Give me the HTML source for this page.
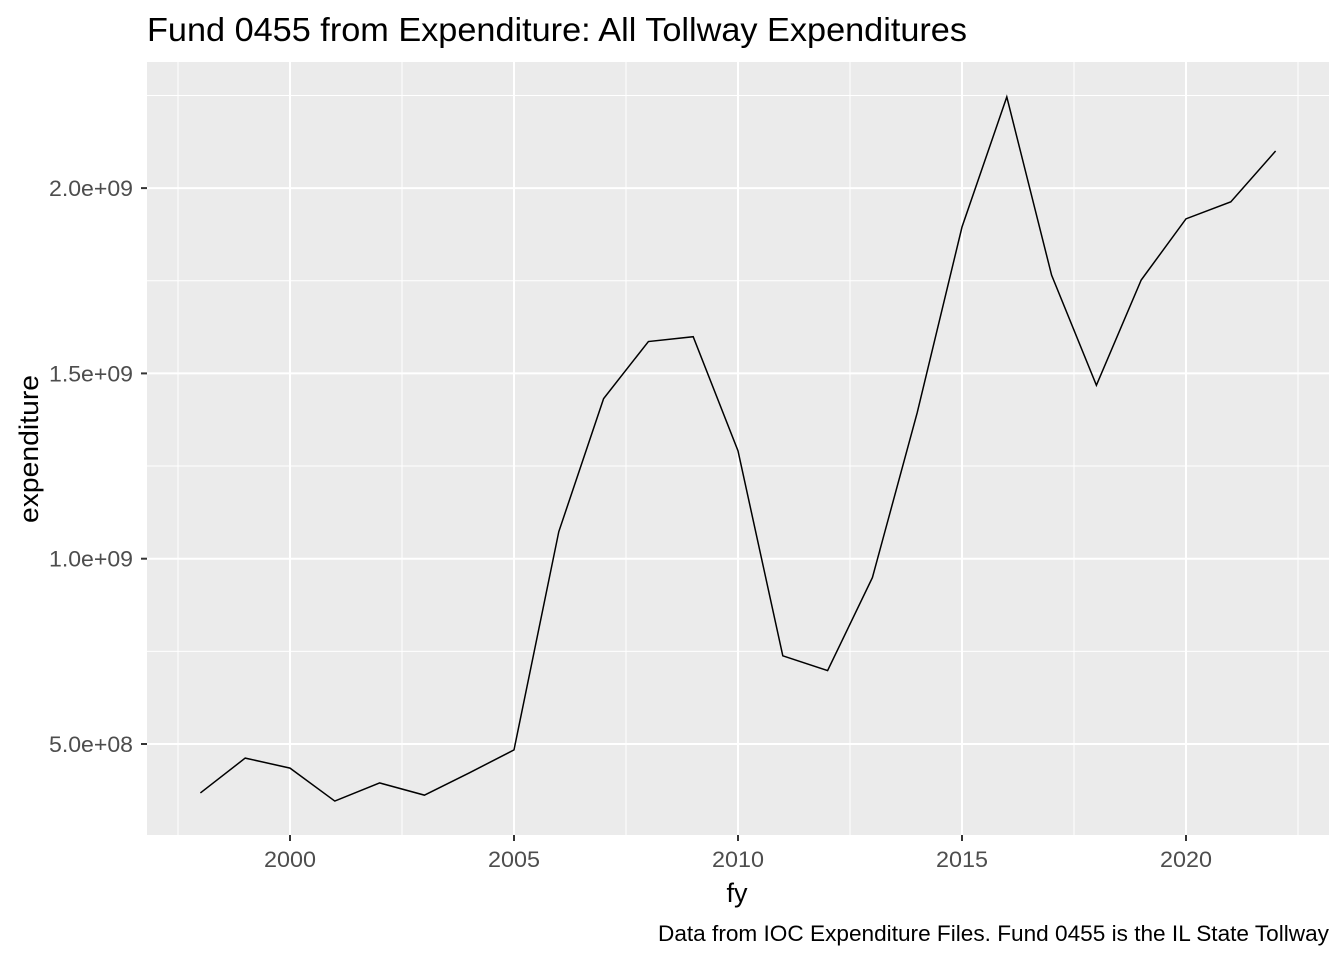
<!DOCTYPE html>
<html><head><meta charset="utf-8"><style>
body{margin:0;background:#fff;}
svg text{font-family:"Liberation Sans",Arial,sans-serif;}
</style></head><body>
<svg width="1344" height="960" xmlns="http://www.w3.org/2000/svg">
<text x="147" y="41" font-size="33" textLength="820" lengthAdjust="spacingAndGlyphs" fill="#000">Fund 0455 from Expenditure: All Tollway Expenditures</text>
<rect x="147" y="62" width="1182" height="773" fill="#ebebeb"/>
<g id="grid"></g>
<g id="line"></g>
<g id="axes"></g>
<text x="737" y="902" font-size="27" text-anchor="middle" fill="#000">fy</text>
<text transform="translate(38,449) rotate(-90)" font-size="27" text-anchor="middle" textLength="148" lengthAdjust="spacingAndGlyphs" fill="#000">expenditure</text>
<text x="658" y="941" font-size="22" textLength="671" lengthAdjust="spacingAndGlyphs" fill="#000">Data from IOC Expenditure Files. Fund 0455 is the IL State Tollway</text>
</svg>
<script>
const years=[1998,1999,2000,2001,2002,2003,2004,2005,2006,2007,2008,2009,2010,2011,2012,2013,2014,2015,2016,2017,2018,2019,2020,2021,2022];
const expenditure=[368e6,462e6,435e6,346e6,395e6,362e6,422e6,484e6,1.073e9,1.432e9,1.586e9,1.599e9,1.291e9,0.738e9,0.698e9,0.949e9,1.394e9,1.895e9,2.246e9,1.765e9,1.468e9,1.752e9,1.917e9,1.963e9,2.100e9];
const xTicks=[2000,2005,2010,2015,2020];
const xMinor=[1997.5,2002.5,2007.5,2012.5,2017.5,2022.5];
const yTicks=[5e8,1e9,1.5e9,2e9];
const yTickLabels=["5.0e+08","1.0e+09","1.5e+09","2.0e+09"];
const yMinor=[7.5e8,1.25e9,1.75e9,2.25e9];
const NS="http://www.w3.org/2000/svg";
const X=v=>290+(v-2000)*44.8;
const Y=v=>744-(v-5e8)/5e8*185.3;
function mk(tag,attrs,parent){const e=document.createElementNS(NS,tag);for(const k in attrs)e.setAttribute(k,attrs[k]);document.getElementById(parent).appendChild(e);return e;}
xMinor.forEach(v=>{const e=mk('line',{x1:X(v),x2:X(v),y1:62,y2:835,stroke:'#fff','stroke-width':1},'grid');

});
yMinor.forEach(v=>{const e=mk('line',{x1:147,x2:1329,y1:Y(v),y2:Y(v),stroke:'#fff','stroke-width':1},'grid');

});
xTicks.forEach(v=>{const e=mk('line',{x1:X(v),x2:X(v),y1:62,y2:835,stroke:'#fff','stroke-width':2},'grid');


const t=mk('line',{x1:X(v),x2:X(v),y1:835,y2:841,stroke:'#333','stroke-width':2},'axes');


const l=mk('text',{x:X(v),y:867,'font-size':22,fill:'#4d4d4d','text-anchor':'middle',textLength:52,lengthAdjust:'spacingAndGlyphs'},'axes');l.textContent=v;

});
yTicks.forEach((v,i)=>{const e=mk('line',{x1:147,x2:1329,y1:Y(v),y2:Y(v),stroke:'#fff','stroke-width':2},'grid');


const t=mk('line',{x1:141,x2:147,y1:Y(v),y2:Y(v),stroke:'#333','stroke-width':2},'axes');


const l=mk('text',{x:49,y:Y(v)+8,'font-size':22,fill:'#4d4d4d',textLength:84,lengthAdjust:'spacingAndGlyphs'},'axes');l.textContent=yTickLabels[i];

});
const p=mk('polyline',{points:years.map((y,i)=>X(y)+','+Y(expenditure[i])).join(' '),fill:'none',stroke:'#000','stroke-width':1.5},'line');


</script>
</body></html>
